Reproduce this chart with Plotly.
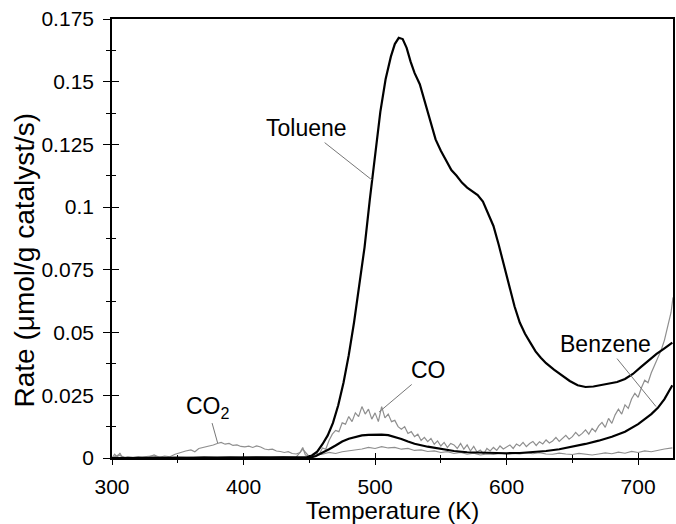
import plotly.graph_objects as go

# ---------------- data ----------------
tol_T = [300, 320, 340, 360, 380, 400, 420, 440, 448, 452, 456, 460, 464, 468, 472, 476,
         480, 484, 488, 492, 496, 500, 504, 508, 512, 515, 518, 521, 524, 527, 530, 534,
         538, 542, 546, 550, 554, 558, 562, 566, 570, 574, 578, 582, 586, 590, 594, 598,
         602, 606, 610, 614, 618, 622, 626, 630, 636, 642, 648, 654, 660, 666, 672, 678,
         684, 690, 696, 702, 708, 714, 720, 726]
tol_rate = [0.0, 0.0, 0.0, 0.0, 0.0, 0.0, 0.0, 0.0, 0.0003, 0.001, 0.0025, 0.0055, 0.009, 0.014,
            0.021, 0.030, 0.041, 0.054, 0.068, 0.084, 0.103, 0.121, 0.138, 0.151, 0.160, 0.165,
            0.1675, 0.167, 0.1635, 0.158, 0.1535, 0.149, 0.142, 0.134, 0.127, 0.1225, 0.1185,
            0.1148, 0.1125, 0.1098, 0.1078, 0.1062, 0.1048, 0.1022, 0.0975, 0.0925, 0.085, 0.077,
            0.068, 0.0605, 0.054, 0.0495, 0.046, 0.0425, 0.040, 0.0378, 0.0352, 0.0328, 0.0307,
            0.029, 0.0283, 0.0285, 0.0292, 0.0297, 0.0303, 0.0315, 0.0335, 0.0362, 0.039,
            0.0415, 0.0437, 0.046]

benz_T = [300, 340, 380, 420, 445, 450, 455, 460, 465, 470, 475, 480, 485, 490, 495, 500, 505,
          510, 515, 520, 525, 530, 540, 550, 560, 570, 580, 590, 600, 610, 620, 630, 640, 650,
          660, 670, 680, 690, 700, 705, 710, 715, 720, 726]
benz_rate = [0.0, 0.0, 0.0, 0.0, 0.0, 0.0, 0.0008, 0.002, 0.0035, 0.005, 0.0066, 0.0077, 0.0085,
             0.009, 0.0092, 0.0093, 0.0093, 0.0091, 0.0085, 0.0076, 0.0066, 0.0057, 0.0045,
             0.0035, 0.0028, 0.0023, 0.0021, 0.0019, 0.0019, 0.002, 0.0023, 0.0028, 0.0035,
             0.0045, 0.0056, 0.0069, 0.0085, 0.0105, 0.0135, 0.0155, 0.0175, 0.020, 0.0235, 0.029]

co_T = [300, 305, 310, 320, 330, 340, 350, 360, 370, 380, 390, 400, 410, 420, 430, 440, 445,
        450, 452.5, 455, 457.5, 460, 462.5, 465, 467.5, 470, 472.5, 475, 477.5, 480, 482.5,
        485, 487.5, 490, 492.5, 495, 497.5, 500, 502.5, 505, 507.5, 510, 512.5, 515, 517.5,
        520, 522.5, 525, 527.5, 530, 532.5, 535, 537.5, 540, 542.5, 545, 547.5, 550, 552.5,
        555, 557.5, 560, 562.5, 565, 567.5, 570, 572.5, 575, 577.5, 580, 582.5, 585, 587.5,
        590, 592.5, 595, 597.5, 600, 602.5, 605, 607.5, 610, 612.5, 615, 617.5, 620, 622.5,
        625, 627.5, 630, 632.5, 635, 637.5, 640, 642.5, 645, 647.5, 650, 652.5, 655, 657.5,
        660, 662.5, 665, 667.5, 670, 672.5, 675, 677.5, 680, 682.5, 685, 687.5, 690, 692.5,
        695, 697.5, 700, 702.5, 705, 707.5, 710, 712.5, 715, 717.5, 720, 722.5, 725, 726.5]
co_rate = [0.0, 0.0012, 0.0002, 0.0003, 0.0008, 0.0002, 0.0004, 0.0001, 0.0006, 0.0002, 0.0005,
           0.0001, 0.0004, 0.0002, 0.0006, 0.0003, 0.0035,
           0.0005, 0.001, 0.002, 0.0015, 0.004, 0.0035, 0.007, 0.0095, 0.011, 0.0105, 0.014,
           0.0135, 0.0165, 0.0145, 0.018, 0.0165, 0.0205, 0.0175, 0.0195, 0.0155, 0.018, 0.0145,
           0.0205, 0.016, 0.0175, 0.0145, 0.015, 0.0125, 0.0115, 0.0125, 0.0098, 0.0105, 0.0085,
           0.0095, 0.007, 0.0082, 0.0065, 0.0078, 0.0055, 0.0068, 0.0048, 0.0062, 0.0042, 0.0058,
           0.0052, 0.0038, 0.0058, 0.0035, 0.0052, 0.0028, 0.0046, 0.0024, 0.0032, 0.0015,
           0.0038, 0.0028, 0.0042, 0.003, 0.0048, 0.0036, 0.0045, 0.0052, 0.0038, 0.0056,
           0.0048, 0.0062, 0.0045, 0.0058, 0.0066, 0.005, 0.0065, 0.0056, 0.0072, 0.006, 0.0068,
           0.0082, 0.0066, 0.0078, 0.009, 0.0075, 0.0085, 0.0102, 0.0088, 0.0098, 0.0112,
           0.0095, 0.0118, 0.0105, 0.0128, 0.0142, 0.0122, 0.0158, 0.0138, 0.0172, 0.0195,
           0.0175, 0.0212, 0.0198, 0.0235, 0.0258, 0.0242, 0.028, 0.031, 0.030, 0.034, 0.037,
           0.040, 0.043, 0.047, 0.052, 0.058, 0.064]

co2_T = [300, 302, 304, 306, 308, 312, 316, 320, 324, 328, 332, 336, 340, 344, 348, 352, 356,
         360, 363, 366, 370, 374, 377, 380, 383, 386, 389, 392, 395, 398, 401, 404, 407, 410,
         413, 416, 419, 422, 425, 428, 431, 434, 437, 440, 443, 445, 447, 450, 455, 460, 465,
         470, 475, 480, 485, 490, 495, 500, 505, 510, 515, 520, 525, 530, 535, 540, 545, 550,
         555, 560, 565, 570, 575, 580, 585, 590, 595, 600, 605, 610, 615, 620, 625, 630, 635,
         640, 645, 650, 655, 660, 665, 670, 675, 680, 685, 690, 695, 700, 705, 710, 715, 720, 726]
co2_rate = [0.0, 0.0015, 0.0003, 0.002, 0.0, 0.0005, 0.0002, 0.0006, 0.0001, 0.0004, 0.0012,
            0.0003, 0.0008, 0.0005, 0.0015, 0.0022, 0.0028, 0.0032, 0.0025, 0.0038, 0.0042,
            0.0046, 0.0052, 0.0058, 0.0062, 0.0055, 0.0058, 0.005, 0.0052, 0.0046, 0.0044,
            0.0047, 0.0042, 0.0048, 0.0044, 0.0036, 0.0033, 0.0035, 0.0028, 0.0026, 0.0022,
            0.0025, 0.0018, 0.0016, 0.0022, 0.0042, 0.0012, 0.0008, 0.0012, 0.0015, 0.0022,
            0.0018, 0.0025, 0.0028, 0.0032, 0.0036, 0.0042, 0.0038, 0.0045, 0.004, 0.0042,
            0.0035, 0.0038, 0.003, 0.0032, 0.0026, 0.0028, 0.0022, 0.0025, 0.0018, 0.0022,
            0.0015, 0.0019, 0.0012, 0.0016, 0.0014, 0.0018, 0.0015, 0.0019, 0.0016, 0.002,
            0.0017, 0.0021, 0.0016, 0.0015, 0.0019, 0.0016, 0.0014, 0.0018, 0.0015, 0.0012,
            0.0016, 0.002, 0.0017, 0.0023, 0.0019, 0.0026, 0.0022, 0.0028, 0.0025, 0.0032,
            0.0036, 0.004]

x_tickvals = [300, 400, 500, 600, 700]
x_ticktext = ["300", "400", "500", "600", "700"]
y_tickvals = [0, 0.025, 0.05, 0.075, 0.1, 0.125, 0.15, 0.175]
y_ticktext = ["0", "0.025", "0.05", "0.075", "0.1", "0.125", "0.15", "0.175"]

x_title = "Temperature (K)"
y_title = "Rate (μmol/g catalyst/s)"

# label text, (text x, text y), (pointed x, pointed y)
labels = [
    ("Toluene", 447.7, 0.1315, 497.7, 0.1108),
    ("CO", 540.9, 0.0351, 503.0, 0.0183),
    ("CO<sub>2</sub>", 372.7, 0.0203, 380.3, 0.0060),
    ("Benzene", 675.0, 0.0454, 713.6, 0.0205),
]

X_RANGE = [300, 726.5]
Y_RANGE = [0, 0.175]

FONT = "Liberation Sans, Arial, sans-serif"
GRAY = "#8f8f8f"

fig = go.Figure()
fig.add_trace(go.Scatter(x=co2_T, y=co2_rate, mode="lines", name="CO2",
                         line=dict(color=GRAY, width=1.2)))
fig.add_trace(go.Scatter(x=co_T, y=co_rate, mode="lines", name="CO",
                         line=dict(color=GRAY, width=1.2)))
fig.add_trace(go.Scatter(x=benz_T, y=benz_rate, mode="lines", name="Benzene",
                         line=dict(color="black", width=2.2), xaxis="x2", yaxis="y2"))
fig.add_trace(go.Scatter(x=tol_T, y=tol_rate, mode="lines", name="Toluene",
                         line=dict(color="black", width=2.2), xaxis="x2", yaxis="y2"))

for text, tx, ty, px, py in labels:
    fig.add_annotation(x=px, y=py, ax=tx, ay=ty, xref="x", yref="y", axref="x", ayref="y",
                       text=text, showarrow=True, arrowhead=0, arrowwidth=1,
                       arrowcolor="#777777", standoff=0,
                       font=dict(family=FONT, size=23, color="black"))

# y-axis title (placed slightly below the plot's centre as in the reference)
fig.add_annotation(x=-0.156, y=0.451, xref="paper", yref="paper", text=y_title,
                   textangle=-90, showarrow=False, xanchor="center", yanchor="middle",
                   font=dict(family=FONT, size=28, color="black"))

common_x = dict(range=X_RANGE, showgrid=False, zeroline=False,
                tickvals=x_tickvals, ticktext=x_ticktext, tickwidth=1.3, tickcolor="black")
common_y = dict(range=Y_RANGE, showgrid=False, zeroline=False,
                tickvals=y_tickvals, ticktext=y_ticktext, tickwidth=1.3, tickcolor="black")

fig.update_layout(
    width=676, height=524,
    margin=dict(l=112, r=1, t=19, b=66),
    paper_bgcolor="white", plot_bgcolor="white",
    showlegend=False,
    font=dict(family=FONT, color="black"),
    xaxis=dict(**common_x, showline=True, linecolor="black", linewidth=1.6, mirror=True,
               ticks="outside", ticklen=5,
               minor=dict(ticks="outside", ticklen=3, dtick=50, tick0=300, tickcolor="black"),
               tickfont=dict(size=21), ticklabelstandoff=4,
               title=dict(text=x_title, font=dict(size=24), standoff=2)),
    yaxis=dict(**common_y, showline=True, linecolor="black", linewidth=1.6, mirror=True,
               ticks="outside", ticklen=7,
               minor=dict(ticks="outside", ticklen=4, dtick=0.0125, tick0=0, tickcolor="black"),
               tickfont=dict(size=21), ticklabelstandoff=5),
    xaxis2=dict(**common_x, overlaying="x", anchor="y2", side="bottom", showline=False,
                ticks="inside", ticklen=5, showticklabels=False,
                minor=dict(ticks="inside", ticklen=3, dtick=50, tick0=300, tickcolor="black")),
    yaxis2=dict(**common_y, overlaying="y", anchor="x2", side="left", showline=False,
                ticks="inside", ticklen=7, showticklabels=False,
                minor=dict(ticks="inside", ticklen=4, dtick=0.0125, tick0=0, tickcolor="black")),
)

fig.write_html("out.html", config={"displayModeBar": False},
               post_script="document.body.style.margin='0';document.body.style.overflow='hidden';")
